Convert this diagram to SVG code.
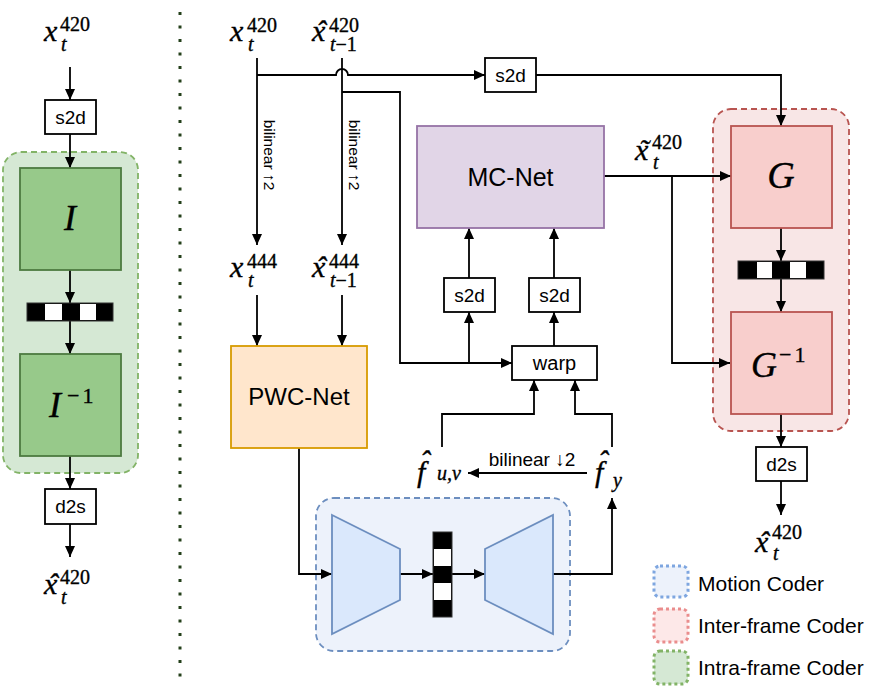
<svg xmlns="http://www.w3.org/2000/svg" width="877" height="689" viewBox="0 0 877 689">
<defs>
<marker id="ah" markerUnits="userSpaceOnUse" markerWidth="12" markerHeight="10" refX="11" refY="5" orient="auto"><path d="M0,0 L11,5 L0,10 z" fill="#000"/></marker>
<style>
.c{fill:none;stroke:#000;stroke-width:1.8;marker-end:url(#ah)}
.l{fill:none;stroke:#000;stroke-width:1.8}
.box{fill:#fff;stroke:#000;stroke-width:1.8}
.t{font-family:"Liberation Sans",Arial,sans-serif;fill:#000}
.m{font-family:"Liberation Serif","Times New Roman",serif;font-style:italic;fill:#000;stroke:#000;stroke-width:0.35}
.n{font-style:normal}
.blk{fill:#000;stroke:#333;stroke-width:1}
.wht{fill:#fff}
.gbox{fill:#97c98a;stroke:#4d7a40;stroke-width:1.8}
.rbox{fill:#f8cecc;stroke:#b85450;stroke-width:1.8}
.trap{fill:#dae8fc;stroke:#6c8ebf;stroke-width:1.8}
</style>
</defs>
<rect width="877" height="689" fill="#fff"/>

<!-- separator -->
<line x1="180" y1="12" x2="180" y2="686" stroke="#24401a" stroke-width="3" stroke-dasharray="3 10.5"/>

<!-- containers -->
<g id="intra-container"><rect x="3" y="152" width="135" height="321" rx="18" fill="#d5e8d4" stroke="#82b366" stroke-width="1.8" stroke-dasharray="6 4"/></g>
<g id="inter-container"><rect x="713" y="109" width="136" height="322" rx="18" fill="#f8e6e6" stroke="#b85450" stroke-width="1.8" stroke-dasharray="6 4"/></g>
<g id="motion-container"><rect x="316" y="498" width="254" height="153" rx="18" fill="#edf2fb" stroke="#6c8ebf" stroke-width="1.8" stroke-dasharray="6 4"/></g>

<!-- connectors -->
<g id="connectors">
<path class="c" d="M70,67 V100"/>
<path class="c" d="M70,134 V168"/>
<path class="c" d="M70,270 V303"/>
<path class="c" d="M70,321 V354"/>
<path class="c" d="M70,456 V489"/>
<path class="c" d="M70,524 V557"/>

<path class="c" d="M257,58 V245"/>
<path class="c" d="M257,75 H336 A6,6 0 0 1 348,75 H485"/>
<path class="c" d="M342,58 V245"/>
<path class="c" d="M342,92 H400 V363 H512"/>
<path class="c" d="M469,363 V312"/>
<path class="c" d="M257,295 V346"/>
<path class="c" d="M342,295 V346"/>
<path class="c" d="M536,75 H781 V126"/>
<path class="c" d="M469,278 V228"/>
<path class="c" d="M554,278 V228"/>
<path class="c" d="M554,346 V312"/>
<path class="c" d="M604,176 H731"/>
<path class="c" d="M672,176 V363 H730"/>
<path class="c" d="M781,228 V261"/>
<path class="c" d="M781,279 V312"/>
<path class="c" d="M781,414 V447"/>
<path class="c" d="M781,481 V515"/>
<path class="c" d="M299,448 V574 H332"/>
<path class="c" d="M400,574 H433"/>
<path class="c" d="M452,574 H485"/>
<path class="c" d="M553,574 H612 V498"/>
<path class="c" d="M587,473 H468"/>
<path class="c" d="M442,447 V414 H534 V380"/>
<path class="c" d="M612,447 V414 H575 V380"/>
</g>

<!-- left column -->
<g id="l-xt">
<text class="m" font-size="30"><tspan x="44" y="41">x</tspan><tspan class="n" x="60" y="31" font-size="20">420</tspan><tspan x="61" y="51" font-size="20">t</tspan></text>
</g>
<g id="l-s2d"><rect class="box" x="45" y="100" width="51" height="34"/><text class="t" x="70.5" y="124" font-size="19" text-anchor="middle">s2d</text></g>
<g id="I"><rect class="gbox" x="20" y="168" width="101" height="102"/><text class="m" x="70" y="230" font-size="36" text-anchor="middle">I</text></g>
<g id="l-bottleneck">
<rect class="blk" x="27" y="303" width="86" height="18"/>
<rect class="wht" x="45" y="304" width="17" height="16"/>
<rect class="wht" x="80" y="304" width="16" height="16"/>
</g>
<g id="Iinv"><rect class="gbox" x="20" y="354" width="101" height="102"/>
<text class="m" font-size="36"><tspan x="49" y="417">I</tspan><tspan class="n" x="67" y="403" font-size="22" letter-spacing="3">−1</tspan></text></g>
<g id="l-d2s"><rect class="box" x="45" y="489" width="51" height="35"/><text class="t" x="70.5" y="513" font-size="19" text-anchor="middle">d2s</text></g>
<g id="l-xhat">
<text class="m" font-size="30"><tspan x="44" y="594">x</tspan><tspan x="48" y="594">ˆ</tspan><tspan class="n" x="60" y="584" font-size="20">420</tspan><tspan x="61" y="604" font-size="20">t</tspan></text>
</g>

<!-- right inputs -->
<g id="r-xt">
<text class="m" font-size="30"><tspan x="230" y="41">x</tspan><tspan class="n" x="247" y="32" font-size="20">420</tspan><tspan x="248" y="51" font-size="20">t</tspan></text>
</g>
<g id="r-xhat-prev">
<text class="m" font-size="30"><tspan x="312" y="41">x</tspan><tspan x="316" y="41">ˆ</tspan><tspan class="n" x="329" y="32" font-size="20">420</tspan><tspan x="330" y="51" font-size="20">t<tspan class="n">−1</tspan></tspan></text>
</g>
<g id="bilinear-up-1"><text class="t" font-size="15.5" text-anchor="middle" transform="translate(264,155) rotate(90)">bilinear ↑2</text></g>
<g id="bilinear-up-2"><text class="t" font-size="15.5" text-anchor="middle" transform="translate(349,155) rotate(90)">bilinear ↑2</text></g>
<g id="xt444">
<text class="m" font-size="30"><tspan x="230" y="277">x</tspan><tspan class="n" x="247" y="268" font-size="20">444</tspan><tspan x="248" y="287" font-size="20">t</tspan></text>
</g>
<g id="xhat444">
<text class="m" font-size="30"><tspan x="312" y="277">x</tspan><tspan x="316" y="277">ˆ</tspan><tspan class="n" x="329" y="268" font-size="20">444</tspan><tspan x="330" y="287" font-size="20">t<tspan class="n">−1</tspan></tspan></text>
</g>

<g id="pwc"><rect x="231" y="346" width="136" height="102" fill="#ffe6cc" stroke="#d79b00" stroke-width="1.8"/><text class="t" x="299" y="405" font-size="24" text-anchor="middle">PWC-Net</text></g>

<g id="top-s2d"><rect class="box" x="485" y="58" width="51" height="34"/><text class="t" x="510.5" y="82" font-size="19" text-anchor="middle">s2d</text></g>
<g id="mcnet"><rect x="417" y="126" width="187" height="102" fill="#e1d5e7" stroke="#9673a6" stroke-width="1.8"/><text class="t" x="510.5" y="186" font-size="25" text-anchor="middle">MC-Net</text></g>
<g id="s2d-a"><rect class="box" x="444" y="278" width="51" height="34"/><text class="t" x="469.5" y="302" font-size="19" text-anchor="middle">s2d</text></g>
<g id="s2d-b"><rect class="box" x="529" y="278" width="51" height="34"/><text class="t" x="554.5" y="302" font-size="19" text-anchor="middle">s2d</text></g>
<g id="warp"><rect class="box" x="512" y="346" width="85" height="34"/><text class="t" x="554.5" y="370" font-size="20" text-anchor="middle">warp</text></g>

<g id="fuv">
<text class="m" font-size="30"><tspan x="417" y="482">f</tspan><tspan x="420" y="471">ˆ</tspan><tspan x="437" y="480" font-size="20">u,v</tspan></text>
</g>
<g id="fy">
<text class="m" font-size="30"><tspan x="595" y="482">f</tspan><tspan x="598" y="471">ˆ</tspan><tspan x="613" y="487" font-size="20">y</tspan></text>
</g>
<g id="bilinear-down"><text class="t" x="532" y="466" font-size="19" text-anchor="middle">bilinear ↓2</text></g>

<!-- motion coder -->
<g id="encoder"><polygon class="trap" points="332,515 400,549 400,600 332,634"/></g>
<g id="m-bottleneck">
<rect class="blk" x="433" y="532" width="19" height="85"/>
<rect class="wht" x="434" y="549" width="17" height="17"/>
<rect class="wht" x="434" y="583" width="17" height="17"/>
</g>
<g id="decoder"><polygon class="trap" points="485,549 553,515 553,634 485,600"/></g>

<!-- inter-frame coder -->
<g id="xtilde">
<text class="m" font-size="30"><tspan x="635" y="160">x</tspan><tspan x="639" y="160">˜</tspan><tspan class="n" x="652" y="149" font-size="20">420</tspan><tspan x="653" y="169" font-size="20">t</tspan></text>
</g>
<g id="G"><rect class="rbox" x="731" y="126" width="101" height="102"/><text class="m" x="781" y="188" font-size="38" text-anchor="middle">G</text></g>
<g id="r-bottleneck">
<rect class="blk" x="738" y="261" width="86" height="18"/>
<rect class="wht" x="757" y="262" width="15" height="16"/>
<rect class="wht" x="790" y="262" width="16" height="16"/>
</g>
<g id="Ginv"><rect class="rbox" x="731" y="312" width="101" height="102"/>
<text class="m" font-size="36"><tspan x="751" y="377">G</tspan><tspan class="n" x="779" y="362" font-size="22" letter-spacing="3">−1</tspan></text></g>
<g id="r-d2s"><rect class="box" x="756" y="447" width="51" height="34"/><text class="t" x="781.5" y="471" font-size="19" text-anchor="middle">d2s</text></g>
<g id="r-xhat">
<text class="m" font-size="30"><tspan x="755" y="552">x</tspan><tspan x="759" y="552">ˆ</tspan><tspan class="n" x="772" y="539" font-size="20">420</tspan><tspan x="773" y="560" font-size="20">t</tspan></text>
</g>

<!-- legend -->
<g id="legend">
<rect x="654" y="566" width="34" height="31" rx="6" fill="#edf2fb" stroke="#7ea6e0" stroke-width="3" stroke-dasharray="3 3"/>
<text class="t" x="698" y="591" font-size="21">Motion Coder</text>
<rect x="654" y="609" width="34" height="33" rx="6" fill="#fde8e8" stroke="#ea8d8d" stroke-width="3" stroke-dasharray="3 3"/>
<text class="t" x="698" y="633" font-size="21">Inter-frame Coder</text>
<rect x="654" y="651" width="34" height="33" rx="6" fill="#d5e8d4" stroke="#82b366" stroke-width="3" stroke-dasharray="3 3"/>
<text class="t" x="698" y="675" font-size="21">Intra-frame Coder</text>
</g>
</svg>
